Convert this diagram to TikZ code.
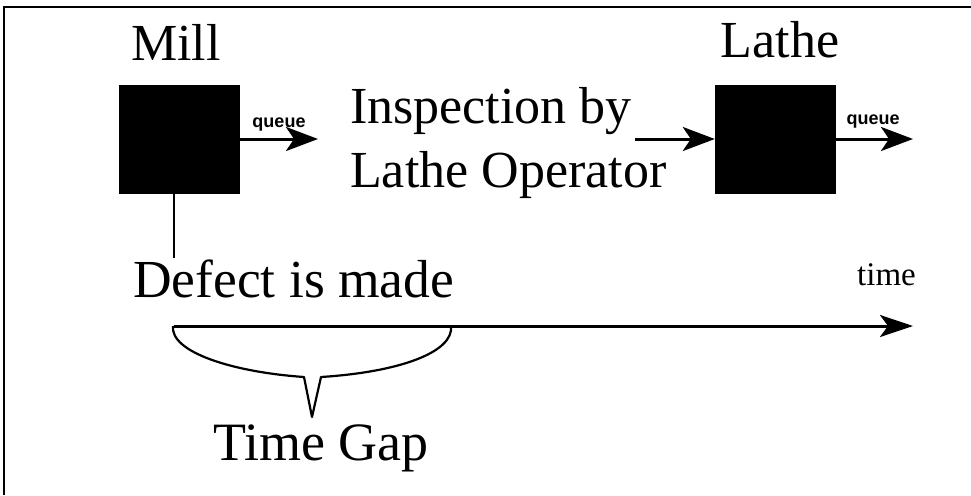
\documentclass[tikz,border=0pt]{standalone}
\usepackage{fontspec}
\setmainfont{Liberation Serif}
\newfontfamily\qfont{Liberation Sans}
\usetikzlibrary{arrows.meta}
\tikzset{
  big/.style={inner sep=0pt, font=\fontsize{52}{64}\selectfont},
  qlabel/.style={inner sep=0pt, anchor=base, font=\qfont\bfseries\fontsize{18}{22}\selectfont},
  machine/.style={fill=black, draw=black, minimum width=120pt, minimum height=108pt, inner sep=0pt},
  flow/.style={line width=3pt, -{Stealth[length=32pt, width=24pt, inset=8pt]}},
  frame/.style={line width=2.5pt},
  brace/.style={line width=2.2pt, line join=round}
}
\begin{document}
\begin{tikzpicture}[x=1pt, y=-1pt]
\useasboundingbox (0,0) rectangle (971,495);
% frame
\coordinate (fa) at (4,495);
\coordinate (fb) at (4,7);
\coordinate (fc) at (971,7);
\draw[frame] (fa) -- (fb) -- (fc);
% labels
\node[big, anchor=base] (mill) at (176,60) {Mill};
\node[big, anchor=base] (lathe) at (780,57) {Lathe};
% machines
\node[machine] (millbox) at (179,139) {};
\node[machine] (lathebox) at (775,139) {};
% inspection text
\node[big, anchor=base west] (insp1) at (350,123) {Inspection by};
\node[big, anchor=base west] (insp2) at (350,187) {Lathe Operator};
% arrows
\coordinate (q1end) at (318,139);
\coordinate (inspout) at (635,139);
\coordinate (q2end) at (913,139);
\draw[flow] (millbox.east) -- (q1end);
\draw[flow] (inspout) -- (lathebox.west);
\draw[flow] (lathebox.east) -- (q2end);
\node[qlabel] (queue1) at (279,127) {queue};
\node[qlabel] (queue2) at (873,124) {queue};
% defect
\coordinate (defect) at (174,258);
\draw[line width=2.2pt] (defect |- millbox.south) -- (defect);
\node[big, anchor=base west, font=\fontsize{53.5}{64}\selectfont] (defecttxt) at (133,297) {Defect is made};
% time axis
\node[inner sep=0pt, anchor=base west, font=\fontsize{33}{36}\selectfont] (timetxt) at (857,285) {time};
\coordinate (t0) at (174,326);
\coordinate (t1) at (913,326);
\draw[line width=3pt, -{Stealth[length=33pt, width=22pt, inset=8pt]}] (t0) -- (t1);
% brace
\coordinate (b0) at (173,326);
\coordinate (bl) at (304,377);
\coordinate (btip) at (312,417);
\coordinate (br) at (321,377);
\coordinate (b1) at (451,326);
\draw[brace] (b0) .. controls (170,352) and (232,372) .. (bl) -- (btip) -- (br) .. controls (400,372) and (454,352) .. (b1);
\node[big, anchor=base west, font=\fontsize{54}{64}\selectfont] (gap) at (213,460) {Time Gap};
\end{tikzpicture}
\end{document}
